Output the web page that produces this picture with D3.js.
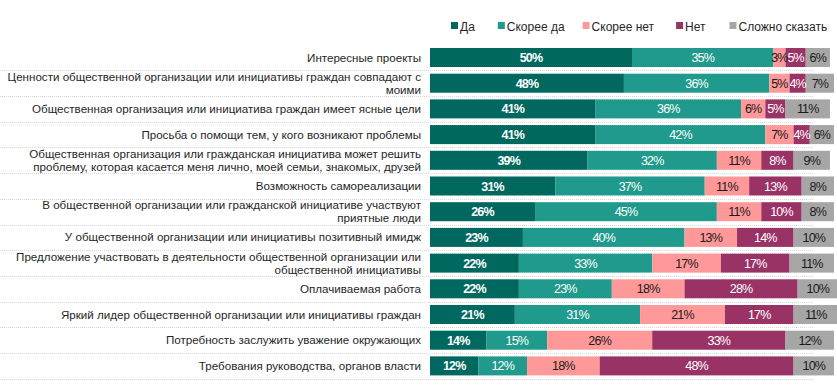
<!DOCTYPE html>
<html>
<head>
<meta charset="utf-8">
<script src="https://cdn.jsdelivr.net/npm/d3@7"></script>
<style>
  html, body { margin: 0; padding: 0; background: #ffffff; }
  svg { display: block; font-family: "Liberation Sans", Arial, sans-serif; }
</style>
</head>
<body>
<svg id="chart" width="837" height="390"></svg>
<script>
// ---- data ----
const categories = [
  "Интересные проекты",
  "Ценности общественной организации или инициативы граждан совпадают с\nмоими",
  "Общественная организация или инициатива граждан имеет ясные цели",
  "Просьба о помощи тем, у кого возникают проблемы",
  "Общественная организация или гражданская инициатива может решить\nпроблему, которая касается меня лично, моей семьи, знакомых, друзей",
  "Возможность самореализации",
  "В общественной организации или гражданской инициативе участвуют\nприятные люди",
  "У общественной организации или инициативы позитивный имидж",
  "Предложение участвовать в деятельности общественной организации или\nобщественной инициативы",
  "Оплачиваемая работа",
  "Яркий лидер общественной организации или инициативы граждан",
  "Потребность заслужить уважение окружающих",
  "Требования руководства, органов власти"
];
const seriesNames = ["Да", "Скорее да", "Скорее нет", "Нет", "Сложно сказать"];
const da         = [50, 48, 41, 41, 39, 31, 26, 23, 22, 22, 21, 14, 12];
const skoreeDa   = [35, 36, 36, 42, 32, 37, 45, 40, 33, 23, 31, 15, 12];
const skoreeNet  = [3, 5, 6, 7, 11, 11, 11, 13, 17, 18, 21, 26, 18];
const net        = [5, 4, 5, 4, 8, 13, 10, 14, 17, 28, 17, 33, 48];
const slozhno    = [6, 7, 11, 6, 9, 8, 8, 10, 11, 10, 11, 12, 10];
const seriesValues = [da, skoreeDa, skoreeNet, net, slozhno];

// ---- styles ----
const colors = ["#00685f", "#1f9a8c", "#ff9999", "#993366", "#a6a6a6"];
const textColors = ["#ffffff", "#ffffff", "#1a1a1a", "#ffffff", "#1a1a1a"];
const textWeights = ["bold", "normal", "normal", "normal", "normal"];

const svg = d3.select("#chart");

const x = d3.scaleLinear().domain([0, 100]).range([430, 834]);
const y = d3.scaleBand().domain(categories).range([44.65, 378.75])
  .paddingInner(0.26).paddingOuter(0.13);

// rows table
const rows = categories.map((c, i) => {
  let acc = 0;
  const segs = seriesValues.map((arr, s) => {
    const seg = { cat: c, s, v: arr[i], x0: acc, x1: acc + arr[i] };
    acc += arr[i];
    return seg;
  });
  return { cat: c, i, segs };
});

// separators
svg.append("g").selectAll("line").data(categories).join("line")
  .attr("x1", 0).attr("x2", 814)
  .attr("y1", d => Math.round(y(d) + y.bandwidth() + y.step() * 0.13) + 0.5)
  .attr("y2", d => Math.round(y(d) + y.bandwidth() + y.step() * 0.13) + 0.5)
  .attr("stroke", "#dadada").attr("stroke-width", 1)
  .attr("stroke-dasharray", "1,1");

// category labels
const lab = svg.append("g").selectAll("text").data(categories).join("text")
  .attr("text-anchor", "end")
  .attr("font-size", 11.6)
  .attr("fill", "#262626");
lab.each(function (d) {
  const lines = d.split("\n");
  const cy = y(d) + y.bandwidth() / 2;
  const lh = 13;
  const start = cy - (lines.length - 1) * lh / 2;
  d3.select(this).selectAll("tspan").data(lines).join("tspan")
    .attr("x", 421)
    .attr("y", (l, k) => start + k * lh + 4)
    .text(l => l);
});

// bars
const g = svg.append("g").selectAll("g").data(rows).join("g");
g.selectAll("rect").data(r => r.segs).join("rect")
  .attr("x", d => x(d.x0))
  .attr("width", d => x(d.x1) - x(d.x0))
  .attr("y", d => y(d.cat))
  .attr("height", y.bandwidth())
  .attr("fill", d => colors[d.s]);
g.selectAll("text").data(r => r.segs).join("text")
  .attr("x", d => (x(d.x0) + x(d.x1)) / 2)
  .attr("y", d => y(d.cat) + y.bandwidth() / 2 + 4.5)
  .attr("text-anchor", "middle")
  .attr("font-size", 12.5)
  .attr("letter-spacing", "-0.8px")
  .attr("font-weight", d => textWeights[d.s])
  .attr("fill", d => textColors[d.s])
  .text(d => d.v + "%");

// legend
const leg = svg.append("g");
let lx = 451;
const gaps = [23, 18, 22, 24, 0];
seriesNames.forEach((n, s) => {
  leg.append("rect").attr("x", lx).attr("y", 22).attr("width", 7).attr("height", 7)
    .attr("fill", colors[s]);
  const t = leg.append("text").attr("x", lx + 9).attr("y", 31)
    .attr("font-size", 12).attr("fill", "#262626").text(n);
  lx += 9 + t.node().getComputedTextLength() + gaps[s];
});
</script>
</body>
</html>
